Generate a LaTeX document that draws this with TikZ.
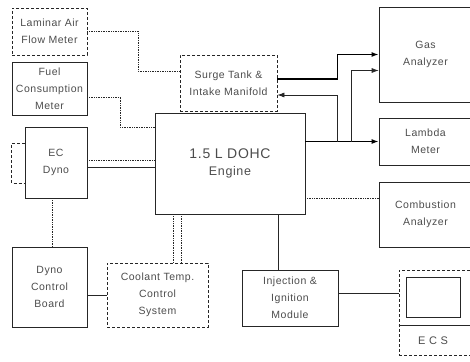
\documentclass[tikz,border=0pt]{standalone}
\usepackage{fontspec}
\setmainfont{Liberation Sans}[LetterSpace=5]
\usetikzlibrary{calc,arrows.meta}

\begin{document}
\begin{tikzpicture}[
    x=1pt, y=-1pt,
    font=\fontsize{10.5}{17}\selectfont,
    >={Latex[length=7pt,width=5pt]},
    box/.style={draw=black!85, line width=0.7pt, text=black!70, align=center, inner sep=0pt},
    dbox/.style={box, densely dashed},
    wire/.style={draw=black!85, line width=0.7pt},
    wiredot/.style={wire, densely dotted},
    pipe/.style={draw=black, line width=1.3pt}
]
    \path[use as bounding box, clip] (0,0) rectangle (470,361);

    % --- Strumenti a sinistra ---
    \node[dbox, minimum width=75pt, minimum height=47pt] (lam) at (49.5,31.5) {Laminar Air\\Flow Meter};
    \node[box, minimum width=75pt, minimum height=53pt] (fuel) at (49.5,88.5) {Fuel\\Consumption\\Meter};
    \node[box, minimum width=62pt, minimum height=71pt] (dyno) at (56,162.5) {EC\\Dyno};
    \node[box, minimum width=75pt, minimum height=80pt] (dcb) at (49.5,287) {Dyno\\Control\\Board};

    % --- Motore e aspirazione ---
    \node[dbox, minimum width=97pt, minimum height=56pt] (surge) at (228.5,83) {Surge Tank \&\\Intake Manifold};
    \node[box, minimum width=150pt, minimum height=101pt] (engine) at (230,163.5)
        {\fontsize{14}{20}\selectfont 1.5 L DOHC\\\fontsize{12.5}{16}\selectfont Engine};
    \node[dbox, minimum width=101pt, minimum height=64pt] (cool) at (157.5,295) {Coolant Temp.\\Control\\System};
    \node[box, minimum width=96pt, minimum height=56pt] (inj) at (290,298) {Injection \&\\Ignition\\Module};

    % --- Analizzatori a destra (tagliati dal bordo) ---
    \node[box, minimum width=93pt, minimum height=95pt] (gas) at (425.5,54.5) {Gas\\Analyzer};
    \node[box, minimum width=93pt, minimum height=47pt] (lambda) at (425.5,141.5) {Lambda\\Meter};
    \node[box, minimum width=93pt, minimum height=65pt] (comb) at (425.5,214.5) {Combustion\\Analyzer};

    % --- ECS ---
    \node[dbox, minimum width=73pt, minimum height=85pt] (ecs) at (435.5,312.5) {};
    \node[box, minimum width=54pt, minimum height=40pt] (screen) at (433,297) {};
    \node[text=black!70, font=\fontsize{11}{13}\selectfont] (ecslabel) at (433,341) {E C S};
    \draw[wire] ($(ecs.west)+(0,12.5)$) -- ($(ecs.east)+(0,12.5)$);

    % --- Collegamenti tratteggiati ---
    \draw[wiredot] (lam.east) -- ++(51,0) |- ($(surge.west)+(0,-12)$);
    \draw[wiredot] ($(fuel.east)+(0,8.5)$) -- ++(33,0) |- ($(engine.west)+(0,-36.5)$);
    \draw[wiredot] ($(dyno.east)+(0,-2.5)$) -- ($(dyno.east -| engine.west)+(0,-2.5)$);
    \draw[wire] ($(dyno.east)+(0,4.5)$) -- ($(dyno.east -| engine.west)+(0,4.5)$);
    \draw[wire, densely dashed] ($(dyno.west)+(0,-19.5)$) -- ++(-13,0) |- ($(dyno.west)+(0,20.5)$);

    \coordinate (dynotap) at ($(dyno.south)+(-4,0)$);
    \draw[wiredot] (dynotap) -- (dynotap |- dcb.north);

    \coordinate (coolA) at ($(engine.south)+(-57,0)$);
    \coordinate (coolB) at ($(engine.south)+(-49,0)$);
    \draw[wiredot] (coolA) -- (coolA |- cool.north);
    \draw[wiredot] (coolB) -- (coolB |- cool.north);

    \draw[wiredot] ($(comb.west -| engine.east)+(0,-16.5)$) -- ($(comb.west)+(0,-16.5)$);

    % --- Collegamenti pieni ---
    \draw[wire] (cool.west -| dcb.east) -- (cool.west);
    \coordinate (injtap) at ($(inj.north)+(-12,0)$);
    \draw[wire] (injtap |- engine.south) -- (injtap);
    \draw[wire] ($(inj.east)+(0,-5)$) -- ($(inj.east -| ecs.west)+(0,-5)$);

    % --- Scarico e prelievi verso gli analizzatori ---
    \coordinate (tapA) at ($(lambda.west)+(-41,0)$);
    \coordinate (tapB) at ($(lambda.west)+(-27,0)$);
    \draw[pipe, ->] (lambda.west -| engine.east) -- (lambda.west);
    \draw[pipe, ->] ($(surge.east)+(0,-4)$) -| (tapA |- gas.west) -- (gas.west);
    \draw[wire, ->] (tapA) |- ($(surge.east)+(0,12)$);
    \draw[wire, ->] (tapB) |- ($(gas.west)+(0,16)$);

\end{tikzpicture}
\end{document}
